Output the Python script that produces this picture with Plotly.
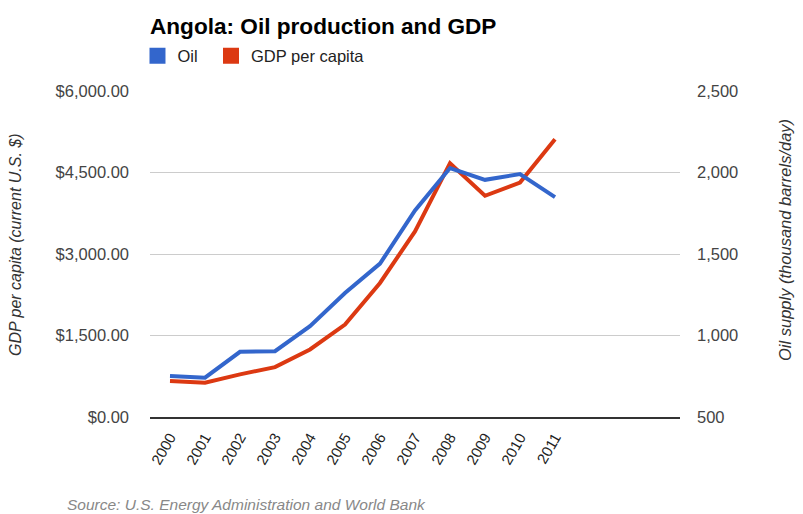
import plotly.graph_objects as go

years = [2000, 2001, 2002, 2003, 2004, 2005, 2006, 2007, 2008, 2009, 2010, 2011]
oil_kbd = [751, 741, 900, 904, 1057, 1261, 1441, 1767, 2027, 1955, 1990, 1849]
gdp_per_capita = [661, 631, 784, 918, 1243, 1702, 2467, 3416, 4671, 4071, 4316, 5112]
gdp_ticks = [0, 1500, 3000, 4500, 6000]
gdp_tick_labels = ["$0.00", "$1,500.00", "$3,000.00", "$4,500.00", "$6,000.00"]
oil_ticks = [500, 1000, 1500, 2000, 2500]
oil_tick_labels = ["500", "1,000", "1,500", "2,000", "2,500"]

BLUE = "#3366cc"
RED = "#dc3912"
FONT = "Liberation Sans, Arial, sans-serif"

fig = go.Figure()
fig.add_trace(go.Scatter(x=years, y=oil_kbd, mode="lines", yaxis="y2",
                         line=dict(color=BLUE, width=4), showlegend=False, name="Oil"))
fig.add_trace(go.Scatter(x=years, y=gdp_per_capita, mode="lines",
                         line=dict(color=RED, width=4), showlegend=False, name="GDP per capita"))
# legend entries (square swatches)
fig.add_trace(go.Scatter(x=[None], y=[None], mode="markers", name="Oil", legend="legend",
                         marker=dict(symbol="square", size=16, color=BLUE)))
fig.add_trace(go.Scatter(x=[None], y=[None], mode="markers", name="GDP per capita",
                         legend="legend2",
                         marker=dict(symbol="square", size=16, color=RED)))

# page has an 8px body margin, so the figure is 795x506 placed at (8, 8)
W, H = 795, 506
legend_style = dict(orientation="h", xanchor="left", y=1 + 35/326, yanchor="middle",
                    font=dict(size=16.5, color="#222"), itemwidth=30,
                    bgcolor="rgba(0,0,0,0)")
fig.update_layout(
    width=W, height=H,
    margin=dict(l=142, r=123, t=83, b=97),
    plot_bgcolor="white", paper_bgcolor="white",
    font=dict(family=FONT, size=16, color="#444"),
    title=dict(text="<b>Angola: Oil production and GDP</b>", x=142/W, xanchor="left",
               y=1 - 18/H, yanchor="middle", font=dict(size=22.6, color="#000")),
    legend=dict(x=-0.0236, **legend_style),
    legend2=dict(x=0.1151, **legend_style),
    xaxis=dict(range=[2000 - 20/35, 2000 + 510/35], tickvals=years, ticktext=[str(y) for y in years],
               tickangle=-60, showgrid=False, zeroline=False, showline=True, linecolor="#333",
               linewidth=1.5, tickfont=dict(color="#222", size=15), ticks="",
               ticklabelstandoff=4),
    yaxis=dict(range=[0, 6000], tickvals=gdp_ticks, ticktext=gdp_tick_labels,
               showgrid=True, gridcolor="#cccccc", zeroline=False, showline=False,
               ticklabelstandoff=20, tickfont=dict(color="#444", size=16.5)),
    yaxis2=dict(range=[500, 2500], tickvals=oil_ticks, ticktext=oil_tick_labels,
                overlaying="y", side="right", showgrid=False, zeroline=False, showline=False,
                ticklabelstandoff=16, tickfont=dict(color="#444", size=16.5)),
    annotations=[
        dict(text="<i>GDP per capita (current U.S. $)</i>", xref="paper", yref="paper",
             x=(15 - 150) / 530, y=(417 - 245) / 326, textangle=-90, showarrow=False,
             xanchor="center", yanchor="middle", font=dict(size=16, color="#333")),
        dict(text="<i>Oil supply (thousand barrels/day)</i>", xref="paper", yref="paper",
             x=(785 - 150) / 530, y=(417 - 240) / 326, textangle=-90, showarrow=False,
             xanchor="center", yanchor="middle", font=dict(size=16.5, color="#333")),
        dict(text="<i>Source: U.S. Energy Administration and World Bank</i>", xref="paper",
             yref="paper", x=(65 - 150) / 530, y=(417 - 504) / 326, showarrow=False,
             xanchor="left", yanchor="middle", font=dict(size=15.5, color="#888")),
    ],
)

fig.write_html("out.html")
